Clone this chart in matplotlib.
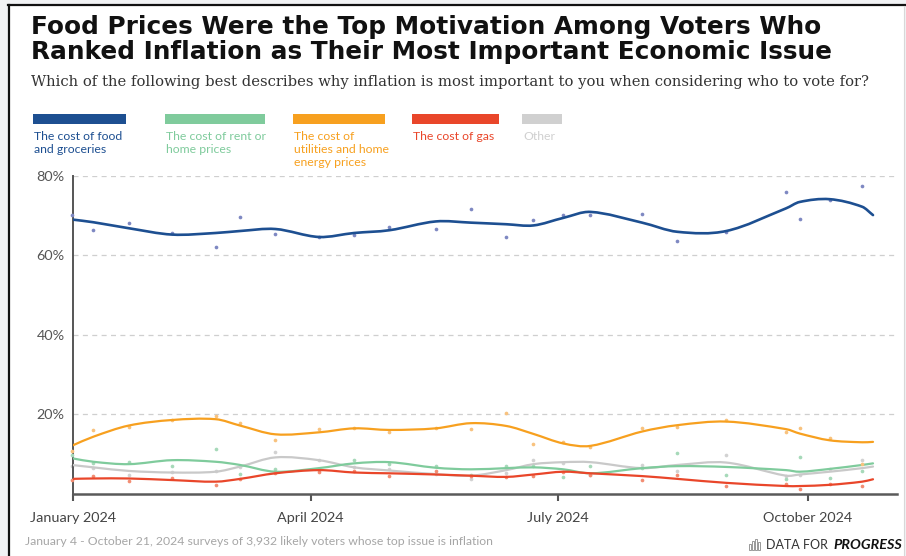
import numpy as np
import pandas as pd
import matplotlib
matplotlib.use("Agg")
import matplotlib.pyplot as plt
import matplotlib.dates as mdates
from matplotlib.path import Path
from matplotlib.patches import PathPatch, Rectangle
from matplotlib.lines import Line2D

# Survey waves (share of inflation-first voters, %)
survey_dates = ["2024-01-04", "2024-01-12", "2024-01-25", "2024-02-10", "2024-02-26",
                "2024-03-06", "2024-03-19", "2024-04-04", "2024-04-17", "2024-04-30",
                "2024-05-17", "2024-05-30", "2024-06-12", "2024-06-22", "2024-07-03",
                "2024-07-13", "2024-08-01", "2024-08-14", "2024-09-01", "2024-09-23",
                "2024-09-28", "2024-10-09", "2024-10-21"]

food = [70.1, 66.3, 68.2, 65.7, 62.1, 69.5, 65.3, 64.6, 65.0, 67.2, 66.5, 71.7,
        64.5, 68.8, 70.2, 70.1, 70.4, 63.5, 65.8, 75.8, 69.0, 73.9, 77.4]
rent = [9.8, 7.7, 8.0, 7.0, 11.2, 5.0, 6.2, 6.0, 8.5, 7.6, 7.0, 4.9,
        7.0, 7.0, 4.2, 7.0, 6.5, 10.2, 4.9, 3.7, 9.2, 4.1, 5.9]
utilities = [10.9, 16.1, 16.8, 18.6, 19.5, 17.8, 13.6, 16.3, 16.5, 15.7, 16.5, 16.3,
             20.4, 12.5, 13.1, 11.8, 16.5, 16.8, 18.5, 15.5, 16.6, 14.1, 7.5]
gas = [3.5, 4.6, 3.3, 4.1, 2.3, 3.8, 5.2, 5.5, 5.9, 4.4, 5.9, 4.6,
       4.2, 4.4, 5.6, 4.9, 3.5, 4.9, 2.0, 2.4, 1.3, 2.6, 2.0]
other = [7.0, 6.5, 4.8, 5.6, 5.9, 6.9, 10.5, 8.5, 6.8, 6.3, 5.0, 3.8,
         5.2, 8.5, 7.7, 4.9, 7.2, 5.8, 9.9, 4.6, 4.8, 6.2, 8.5]

# Smoothed trend values at each wave, plus the trend end point
trend_dates = survey_dates + ["2024-10-25"]
food_trend = [69.0, 68.3, 66.8, 65.2, 65.6, 66.1, 66.6, 64.6, 65.6, 66.3, 68.5, 68.2,
              67.8, 67.5, 69.4, 70.9, 68.2, 65.9, 66.1, 71.8, 73.4, 74.1, 72.2, 70.1]
rent_trend = [9.0, 8.1, 7.5, 8.5, 8.1, 7.3, 5.6, 6.5, 7.7, 8.0, 6.6, 6.2,
              6.5, 6.7, 6.2, 5.2, 6.5, 7.0, 6.8, 6.0, 5.6, 6.3, 7.3, 7.7]
utilities_trend = [12.1, 14.4, 17.2, 18.6, 18.8, 17.2, 15.0, 15.5, 16.5, 16.1, 16.5, 17.8,
                   17.1, 15.1, 12.7, 12.1, 15.7, 17.3, 18.2, 16.3, 15.2, 13.5, 13.0, 13.1]
gas_trend = [3.8, 3.9, 3.9, 3.5, 3.1, 3.8, 5.2, 6.0, 5.4, 5.2, 4.9, 4.6,
             4.3, 4.9, 5.6, 5.2, 4.5, 3.8, 2.8, 2.0, 2.0, 2.3, 3.1, 3.7]
other_trend = [7.3, 6.7, 5.8, 5.4, 5.6, 6.9, 9.2, 8.5, 6.7, 5.9, 5.0, 4.6,
               6.0, 7.5, 8.0, 8.0, 6.5, 7.3, 7.9, 4.6, 4.9, 5.6, 6.5, 6.9]

labels = ["The cost of food\nand groceries", "The cost of rent or\nhome prices",
          "The cost of\nutilities and home\nenergy prices", "The cost of gas", "Other"]
y_ticks = [20, 40, 60, 80]
x_tick_labels = ["January 2024", "April 2024", "July 2024", "October 2024"]

W, H = 906, 556
BODY = "Lato"


def fx(x):
    return x / W


def fy(y):
    return 1 - y / H


def smooth_path(xs, ys):
    """Cubic Hermite curve through the trend values (x-monotone)."""
    xs = np.asarray(xs, float)
    ys = np.asarray(ys, float)
    n = len(xs)
    m = np.empty(n)
    m[0] = (ys[1] - ys[0]) / (xs[1] - xs[0])
    m[-1] = (ys[-1] - ys[-2]) / (xs[-1] - xs[-2])
    m[1:-1] = (ys[2:] - ys[:-2]) / (xs[2:] - xs[:-2])
    verts = [(xs[0], ys[0])]
    codes = [Path.MOVETO]
    for i in range(n - 1):
        h = xs[i + 1] - xs[i]
        verts += [(xs[i] + h / 3, ys[i] + m[i] * h / 3),
                  (xs[i + 1] - h / 3, ys[i + 1] - m[i + 1] * h / 3),
                  (xs[i + 1], ys[i + 1])]
        codes += [Path.CURVE4] * 3
    return Path(verts, codes)


fig = plt.figure(figsize=(W / 100, H / 100), dpi=100)
fig.patch.set_facecolor("#f1f2f4")

# white card with dark top/left edge
fig.add_artist(Rectangle((fx(8), 0), fx(904) - fx(8), fy(5), transform=fig.transFigure,
                         facecolor="white", edgecolor="none", zorder=0))
fig.add_artist(Line2D([fx(8.5), fx(8.5)], [0, fy(5)], transform=fig.transFigure,
                      color="#111111", lw=1.6))
fig.add_artist(Line2D([fx(8), 1], [fy(5), fy(5)], transform=fig.transFigure,
                      color="#111111", lw=1.6))
fig.add_artist(Line2D([fx(904), fx(904)], [0, fy(6)], transform=fig.transFigure,
                      color="#d8d8d8", lw=0.8))

ax = fig.add_axes([fx(73), fy(494), fx(897) - fx(73), (494 - 175.7) / H])

x_survey = mdates.date2num(pd.to_datetime(survey_dates))
x_trend = mdates.date2num(pd.to_datetime(trend_dates))

series = [
    (other, other_trend, "#c9c9c9", "#d2d2d2", 1.6),
    (rent, rent_trend, "#7fcb9c", "#a6d9b9", 1.6),
    (gas, gas_trend, "#e9462a", "#f28d73", 1.6),
    (utilities, utilities_trend, "#f7a01f", "#f8c27e", 1.6),
    (food, food_trend, "#1d4f91", "#7e88c2", 1.9),
]
for i, (pts, trend, color, dot_color, lw) in enumerate(series):
    ax.scatter(x_survey, pts, s=7, color=dot_color, lw=0, zorder=2 + i, clip_on=False)
    ax.add_patch(PathPatch(smooth_path(x_trend, trend), fill=False, edgecolor=color,
                           lw=lw, capstyle="round", zorder=3 + i))

x_left = mdates.date2num(pd.Timestamp("2024-01-04 12:00"))
x_right = mdates.date2num(pd.Timestamp("2024-11-02 20:00"))
ax.set_xlim(x_left, x_right)
ax.set_ylim(0, 80)

ax.set_yticks(y_ticks)
ax.set_yticklabels([f"{v}%" for v in y_ticks], fontsize=10.4, color="#555555", family=BODY)
ax.tick_params(axis="y", length=0, pad=6)
ax.yaxis.grid(True, ls=(0, (4, 3.5)), color="#cfcfcf", lw=0.9)
ax.set_axisbelow(True)

tick_pos = [x_left] + list(mdates.date2num(pd.to_datetime(["2024-04-01", "2024-07-01", "2024-10-01"])))
ax.set_xticks(tick_pos)
ax.set_xticklabels(x_tick_labels, fontsize=10.4, color="#444444", family=BODY)
ax.tick_params(axis="x", length=5, width=1.5, color="#555555", pad=8)

for side in ["top", "right"]:
    ax.spines[side].set_visible(False)
ax.spines["left"].set_color("#555555")
ax.spines["left"].set_linewidth(1.4)
ax.spines["bottom"].set_color("#5a5a5a")
ax.spines["bottom"].set_linewidth(1.8)
ax.patch.set_alpha(0)

# title + question
fig.text(fx(31), fy(34), "Food Prices Were the Top Motivation Among Voters Who",
         fontsize=17.8, fontweight="bold", family="DejaVu Sans", color="#111111", va="baseline")
fig.text(fx(31), fy(59), "Ranked Inflation as Their Most Important Economic Issue",
         fontsize=17.8, fontweight="bold", family="DejaVu Sans", color="#111111", va="baseline")
fig.text(fx(31), fy(86), "Which of the following best describes why inflation is most "
         "important to you when considering who to vote for?",
         fontsize=10.6, family="DejaVu Serif", color="#333333", va="baseline")

# legend swatches and labels
legend_x = [(33, 126), (165, 265), (293, 385), (412, 499), (522, 562)]
legend_colors = ["#1d4f91", "#7fcb9c", "#f7a01f", "#e9462a", "#d0d0d0"]
for (x0, x1), color, text in zip(legend_x, legend_colors, labels):
    fig.add_artist(Rectangle((fx(x0), fy(124)), fx(x1) - fx(x0), fy(114) - fy(124),
                             transform=fig.transFigure, facecolor=color, edgecolor="none"))
    fig.text(fx(x0 + 1), fy(131), text, fontsize=8.8, family=BODY, color=color,
             va="top", linespacing=1.2)

# footer
fig.text(fx(25), fy(541.5), "January 4 - October 21, 2024 surveys of 3,932 likely voters "
         "whose top issue is inflation", fontsize=8.8, family=BODY, color="#a6a6a6",
         va="center")
for bx, bh in zip([749, 752, 755, 758], [6, 9, 11, 8]):
    fig.add_artist(Rectangle((fx(bx), fy(550)), fx(2.2), fy(550 - bh) - fy(550),
                             transform=fig.transFigure, facecolor="none",
                             edgecolor="#888888", lw=0.6))
fig.text(fx(766), fy(545), "DATA FOR", fontsize=9.0, family=BODY, color="#333333",
         va="center")
fig.text(fx(902), fy(545), "PROGRESS", fontsize=10.4, family=BODY, color="#111111",
         fontweight="bold", style="italic", va="center", ha="right")

fig.savefig("out.png", dpi=100)
